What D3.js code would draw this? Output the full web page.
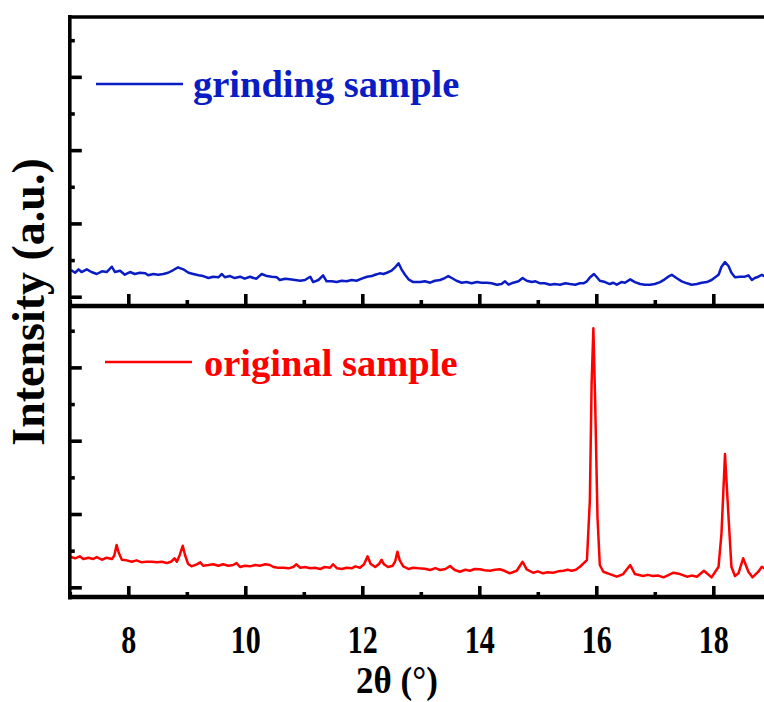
<!DOCTYPE html>
<html>
<head>
<meta charset="utf-8">
<script src="https://cdn.jsdelivr.net/npm/d3@7"></script>
<style>
html,body{margin:0;padding:0;background:#fff;}
svg{display:block;}
text{font-family:"Liberation Serif","Times New Roman",serif;font-weight:bold;}
</style>
</head>
<body>
<svg id="chart" width="764" height="702"></svg>
<script>
// ---- data ----
const xTicks = [8, 10, 12, 14, 16, 18];
const xLabel = "2θ (°)";
const yLabel = "Intensity (a.u.)";
const seriesNames = ["grinding sample", "original sample"];

// grinding sample (top panel)
const grindX = [7.02,7.09,7.15,7.20,7.29,7.37,7.46,7.55,7.63,7.72,7.77,7.86,7.94,8.03,8.11,8.20,8.29,8.34,8.43,8.51,8.60,8.68,8.77,8.85,8.94,9.03,9.11,9.20,9.28,9.37,9.45,9.54,9.60,9.65,9.74,9.82,9.91,9.99,10.08,10.14,10.19,10.28,10.37,10.45,10.54,10.59,10.68,10.76,10.85,10.94,11.02,11.11,11.16,11.25,11.33,11.39,11.48,11.56,11.65,11.73,11.82,11.90,11.99,12.08,12.16,12.22,12.30,12.36,12.42,12.50,12.56,12.62,12.67,12.73,12.79,12.87,12.96,12.99,13.07,13.16,13.24,13.33,13.41,13.47,13.53,13.61,13.70,13.78,13.87,13.96,14.04,14.13,14.21,14.30,14.38,14.44,14.50,14.58,14.67,14.74,14.81,14.90,14.96,15.04,15.12,15.21,15.29,15.38,15.47,15.55,15.64,15.72,15.78,15.84,15.89,15.96,16.01,16.06,16.15,16.23,16.29,16.35,16.43,16.49,16.58,16.66,16.75,16.83,16.92,17.00,17.09,17.17,17.23,17.29,17.37,17.46,17.55,17.63,17.72,17.80,17.89,17.97,18.09,18.14,18.20,18.26,18.31,18.37,18.46,18.54,18.60,18.66,18.71,18.77,18.83,18.87,18.95];
const grindY = [364,327,374,337,374,337,310,346,337,409,337,355,300,337,310,327,319,292,310,300,310,327,364,401,374,327,310,292,282,255,273,265,310,265,282,255,273,246,273,255,246,310,282,273,265,228,246,237,228,218,228,273,200,228,292,210,210,200,218,210,228,218,246,273,282,300,319,310,327,355,401,456,374,300,237,200,200,200,210,191,218,228,255,282,255,218,191,200,183,200,191,191,183,164,173,210,164,191,210,255,218,200,210,183,183,164,173,164,183,173,164,183,183,210,262,310,265,218,200,173,191,164,200,191,237,200,173,164,164,173,200,237,273,300,255,210,183,164,173,191,200,228,300,409,473,419,327,265,273,273,292,228,255,273,300,282,282];

// original sample (bottom panel)
const origX = [7.02,7.09,7.17,7.23,7.32,7.40,7.46,7.55,7.63,7.72,7.76,7.80,7.84,7.89,7.97,8.06,8.14,8.23,8.31,8.40,8.49,8.57,8.66,8.73,8.79,8.83,8.88,8.93,8.97,9.02,9.08,9.17,9.23,9.28,9.37,9.45,9.54,9.62,9.71,9.79,9.85,9.91,9.99,10.08,10.17,10.25,10.34,10.42,10.48,10.56,10.65,10.74,10.82,10.87,10.94,11.02,11.11,11.19,11.28,11.36,11.45,11.50,11.57,11.65,11.73,11.82,11.88,11.96,12.03,12.09,12.14,12.22,12.29,12.33,12.37,12.44,12.52,12.56,12.60,12.64,12.70,12.79,12.87,12.96,13.07,13.16,13.25,13.33,13.42,13.50,13.58,13.67,13.76,13.84,13.92,14.01,14.09,14.18,14.27,14.35,14.44,14.52,14.64,14.74,14.81,14.92,15.00,15.09,15.17,15.26,15.35,15.44,15.51,15.58,15.65,15.72,15.84,15.89,15.92,15.95,15.98,16.02,16.06,16.12,16.23,16.35,16.46,16.58,16.66,16.80,16.88,16.97,17.06,17.15,17.23,17.32,17.43,17.55,17.63,17.72,17.84,17.97,18.09,18.14,18.20,18.26,18.31,18.37,18.43,18.51,18.60,18.67,18.77,18.83,18.87,18.95];
const origY = [413,396,423,386,404,386,413,376,404,386,431,577,464,376,368,349,368,341,349,349,341,349,331,349,396,349,441,567,441,322,286,314,341,295,304,314,295,314,295,304,331,277,295,286,304,295,314,304,277,267,267,259,277,314,267,277,259,267,250,277,267,314,259,250,267,259,286,267,314,423,322,277,322,376,314,277,295,349,486,368,286,250,267,259,254,236,262,236,250,291,236,213,240,226,250,246,232,226,240,246,222,191,226,349,246,199,218,191,205,199,218,226,240,226,240,281,372,1191,2783,3533,2555,963,304,213,181,145,181,304,181,154,170,154,160,136,165,199,181,145,160,145,226,136,281,737,1818,963,281,154,191,396,213,136,213,281,259,250];

// ---- layout ----
const svg = d3.select("#chart");
const W = 764, H = 702;
const xLeft = 69.8, xRight = 771.8;
const topY0 = 16, midY = 306, botY = 597;
const blue = "#0a1cc4", red = "#ff0000";

const x = d3.scaleLinear().domain([7, 19]).range([xLeft, xRight]);
const yTop = d3.scaleLinear().domain([-113, 3830]).range([305, topY0]);
const yBot = d3.scaleLinear().domain([-132, 3851]).range([botY, 305]);

const defs = svg.append("defs");
defs.append("clipPath").attr("id", "clipTop").append("rect")
  .attr("x", xLeft).attr("y", topY0).attr("width", xRight - xLeft).attr("height", 305 - topY0);
defs.append("clipPath").attr("id", "clipBot").append("rect")
  .attr("x", xLeft).attr("y", 305).attr("width", xRight - xLeft).attr("height", botY - 305);

// lines
function drawLine(xs, ys, yScale, color, clip) {
  const pts = xs.map((v, i) => [v, ys[i]]);
  svg.append("path")
    .attr("clip-path", `url(#${clip})`)
    .attr("d", d3.line().x(d => x(d[0])).y(d => yScale(d[1]))(pts))
    .attr("fill", "none").attr("stroke", color).attr("stroke-width", 2.5)
    .attr("stroke-linejoin", "round");
}
drawLine(grindX, grindY, yTop, blue, "clipTop");
drawLine(origX, origY, yBot, red, "clipBot");

// axes helpers
const majorY = [0, 1000, 2000, 3000];
const minorY = [500, 1500, 2500, 3500];
const majorX = xTicks;
const minorX = [7, 9, 11, 13, 15, 17, 19];
const SW = 3.6;

function styleAxis(g) {
  g.selectAll("path.domain").remove();
  g.selectAll(".tick line").attr("stroke", "#000").attr("stroke-width", SW);
  g.selectAll(".tick text").remove();
}

[yTop, yBot].forEach(ys => {
  svg.append("g").attr("transform", `translate(${xLeft},0)`)
    .call(d3.axisRight(ys).tickValues(majorY).tickSize(12)).call(styleAxis);
  svg.append("g").attr("transform", `translate(${xLeft},0)`)
    .call(d3.axisRight(ys).tickValues(minorY).tickSize(5)).call(styleAxis);
});
[midY - 1, botY].forEach(yy => {
  svg.append("g").attr("transform", `translate(0,${yy})`)
    .call(d3.axisTop(x).tickValues(majorX).tickSize(11)).call(styleAxis);
  svg.append("g").attr("transform", `translate(0,${yy})`)
    .call(d3.axisTop(x).tickValues(minorX).tickSize(5)).call(styleAxis);
});

// frame lines
svg.append("line").attr("x1", xLeft).attr("x2", W + 10).attr("y1", topY0 + 1).attr("y2", topY0 + 1)
  .attr("stroke", "#000").attr("stroke-width", SW);
svg.append("line").attr("x1", xLeft).attr("x2", W + 10).attr("y1", midY).attr("y2", midY)
  .attr("stroke", "#000").attr("stroke-width", 4.5);
svg.append("line").attr("x1", xLeft).attr("x2", W + 10).attr("y1", botY).attr("y2", botY)
  .attr("stroke", "#000").attr("stroke-width", SW + 0.8);
svg.append("line").attr("x1", xLeft).attr("x2", xLeft).attr("y1", topY0 - 1).attr("y2", botY + 2.5)
  .attr("stroke", "#000").attr("stroke-width", SW);

// x tick labels
const xl = svg.append("g").attr("transform", `translate(0,${botY})`)
  .call(d3.axisBottom(x).tickValues(xTicks).tickSize(0).tickFormat(d3.format("d")));
xl.select("path.domain").remove();
xl.selectAll(".tick text")
  .attr("y", 0).attr("dy", 0)
  .attr("transform", "translate(0,56) scale(1,1.3)")
  .attr("font-size", 30).attr("font-family", "Liberation Serif").attr("font-weight", "bold").attr("fill", "#000");

// axis titles
svg.append("text").attr("transform", `translate(397,693) scale(1,1.1)`)
  .attr("text-anchor", "middle").attr("font-size", 35).attr("fill", "#000").text(xLabel);
svg.append("text").attr("transform", "translate(44,302) rotate(-90)")
  .attr("text-anchor", "middle").attr("font-size", 46).attr("fill", "#000").text(yLabel);

// legends
svg.append("line").attr("x1", 96).attr("x2", 183).attr("y1", 84).attr("y2", 84)
  .attr("stroke", blue).attr("stroke-width", 2.4);
svg.append("text").attr("x", 193).attr("y", 97).attr("font-size", 38.5).attr("fill", blue).text(seriesNames[0]);
svg.append("line").attr("x1", 105).attr("x2", 192).attr("y1", 362).attr("y2", 362)
  .attr("stroke", red).attr("stroke-width", 2.4);
svg.append("text").attr("x", 204).attr("y", 376).attr("font-size", 38.5).attr("fill", red).text(seriesNames[1]);
</script>
</body>
</html>
